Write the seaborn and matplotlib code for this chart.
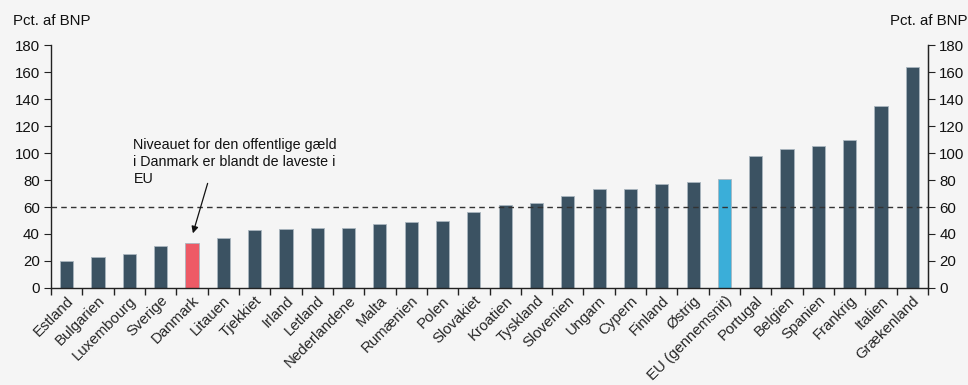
import numpy as np
import pandas as pd
import matplotlib
matplotlib.use("Agg")
import matplotlib.pyplot as plt
import seaborn as sns
from matplotlib.ticker import FixedLocator

countries = ["Estland", "Bulgarien", "Luxembourg", "Sverige", "Danmark", "Litauen",
             "Tjekkiet", "Irland", "Letland", "Nederlandene", "Malta", "Rumænien",
             "Polen", "Slovakiet", "Kroatien", "Tyskland", "Slovenien", "Ungarn",
             "Cypern", "Finland", "Østrig", "EU (gennemsnit)", "Portugal", "Belgien",
             "Spanien", "Frankrig", "Italien", "Grækenland"]
debt = [20.2, 23.1, 25.4, 31.3, 33.6, 37.2, 42.6, 43.4, 44.8, 44.8, 47.3, 49.0,
        49.8, 56.2, 61.6, 63.1, 68.3, 73.4, 73.4, 77.1, 78.6, 80.8, 97.9, 103.1,
        105.3, 109.9, 134.6, 163.9]
limit = 60

DARK = "#3b5262"
RED = "#ee5a66"
BLUE = "#3aaed9"
BG = "#f5f5f5"

colours = [RED if c == "Danmark" else BLUE if c.startswith("EU") else DARK for c in countries]
df = pd.DataFrame({"Land": countries, "Gaeld": debt})

sns.set_style("ticks")
plt.rcParams["font.family"] = ["Liberation Sans", "DejaVu Sans"]

fig = plt.figure(figsize=(9.68, 3.85), dpi=100, facecolor=BG)
ax = fig.add_axes([0.0527, 0.252, 0.906, 0.631], facecolor=BG)

sns.barplot(data=df, x="Land", y="Gaeld", hue="Land", palette=colours, legend=False,
            width=0.42, edgecolor="#aab6bf", linewidth=0.6, saturation=1, ax=ax)

n = len(countries)
ax.set_xlim(-0.5, n - 0.5)
ax.set_ylim(0, 180)
ax.set_yticks(range(0, 181, 20))
ax.axhline(limit, color="#333333", lw=1.0, ls=(0, (4, 3)), zorder=3)

ax.set_xlabel("")
ax.set_ylabel("")
ax.set_xticks(range(n))
ax.set_xticklabels(countries, rotation=45, ha="right", rotation_mode="anchor", fontsize=10.8)
ax.tick_params(axis="x", length=0, pad=4)
ax.xaxis.set_minor_locator(FixedLocator(np.arange(-0.5, n, 1.0)))
ax.tick_params(axis="x", which="minor", length=5, width=1, color="#222222")
ax.tick_params(axis="y", labelsize=10.8, length=5, color="#222222", labelcolor="#111111", pad=3)

ax.spines["top"].set_visible(False)
for s in ["left", "right", "bottom"]:
    ax.spines[s].set_color("#222222")
    ax.spines[s].set_linewidth(1)

ax2 = ax.twinx()
ax2.set_ylim(0, 180)
ax2.set_yticks(range(0, 181, 20))
ax2.tick_params(axis="y", labelsize=10.8, length=5, color="#222222", labelcolor="#111111", pad=3)
ax2.spines["top"].set_visible(False)
ax2.spines["left"].set_visible(False)
ax2.spines["bottom"].set_visible(False)
ax2.spines["right"].set_color("#222222")

fig.text(0.013, 0.945, "Pct. af BNP", fontsize=10.8, color="#111111", ha="left", va="center")
fig.text(0.999, 0.945, "Pct. af BNP", fontsize=10.8, color="#111111", ha="right", va="center")

# annotation text and arrow
ax.text(2.13, 75.8, "Niveauet for den offentlige gæld\ni Danmark er blandt de laveste i\nEU",
        fontsize=10.3, color="#111111", ha="left", va="bottom", linespacing=1.25)
ax.annotate("", xy=(4.03, 40.5), xytext=(4.5, 77.5),
            arrowprops=dict(arrowstyle="-|>", color="#111111", lw=0.9,
                            shrinkA=0, shrinkB=0, mutation_scale=10))

fig.savefig("out.png", dpi=100, facecolor=BG)
